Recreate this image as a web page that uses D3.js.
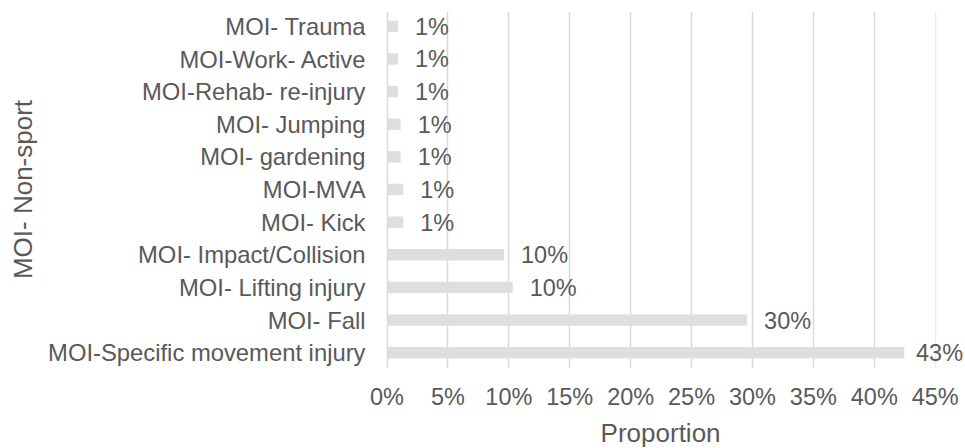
<!DOCTYPE html>
<html>
<head>
<meta charset="utf-8">
<script src="https://cdn.jsdelivr.net/npm/d3@7"></script>
<style>
  body { margin: 0; background: #fff; }
  text { font-family: "Liberation Sans", Arial, sans-serif; fill: #595959; }
</style>
</head>
<body>
<div id="vis1"></div>
<script>
// categories top to bottom
const categories = [
    "MOI- Trauma",
    "MOI-Work- Active",
    "MOI-Rehab- re-injury",
    "MOI- Jumping",
    "MOI- gardening",
    "MOI-MVA",
    "MOI- Kick",
    "MOI- Impact/Collision",
    "MOI- Lifting injury",
    "MOI- Fall",
    "MOI-Specific movement injury"
];
const values = [0.0094, 0.0094, 0.0094, 0.0116, 0.0116, 0.0138, 0.0138, 0.0965, 0.1036, 0.296, 0.425];
const value_labels = ["1%", "1%", "1%", "1%", "1%", "1%", "1%", "10%", "10%", "30%", "43%"];
const x_ticks = [0, 0.05, 0.10, 0.15, 0.20, 0.25, 0.30, 0.35, 0.40, 0.45];

const frame_width = 965;
const frame_height = 448;
const margins = {left: 386.5, right: 30.3, top: 10, bottom: 79};

const x_scale =
d3.scaleLinear()
    .domain([0, 0.45])
    .range([margins.left, frame_width - margins.right]);

const y_scale =
d3.scaleBand()
    .domain(categories)
    .range([margins.top, frame_height - margins.bottom])
    .paddingInner(0.65)
    .paddingOuter(0.325);

const frame1 =
d3.select("#vis1")
    .append("svg")
        .attr("width", frame_width)
        .attr("height", frame_height);

// vertical gridlines
frame1.selectAll(".grid")
    .data(x_ticks)
    .enter()
    .append("line")
        .attr("x1", (d) => Math.round(x_scale(d)) + 0.5)
        .attr("x2", (d) => Math.round(x_scale(d)) + 0.5)
        .attr("y1", margins.top + 2)
        .attr("y2", frame_height - margins.bottom - 1)
        .attr("stroke", (d, i) => i === x_ticks.length - 1 ? "#ececec" : "#d9d9d9")
        .attr("stroke-width", 1.5);

// bars
frame1.selectAll(".bar")
    .data(values)
    .enter()
    .append("rect")
        .attr("x", x_scale(0) + 1)
        .attr("y", (d, i) => y_scale(categories[i]))
        .attr("width", (d) => x_scale(d) - x_scale(0) - 1)
        .attr("height", y_scale.bandwidth())
        .attr("fill", "#dedede");

// value labels (kept inside the frame)
frame1.selectAll(".vlabel")
    .data(values)
    .enter()
    .append("text")
        .attr("x", (d) => Math.min(x_scale(d) + 17, frame_width - 49))
        .attr("y", (d, i) => y_scale(categories[i]) + y_scale.bandwidth() / 2)
        .attr("dy", "0.36em")
        .attr("font-size", "23.5px")
        .text((d, i) => value_labels[i]);

// y axis (category labels)
const y_axis = frame1.append("g")
    .attr("transform", "translate(" + (margins.left - 21) + ",0)")
    .call(d3.axisLeft(y_scale).tickSize(0).tickPadding(0));
y_axis.select(".domain").remove();
y_axis.selectAll("text")
    .attr("font-size", "23.8px")
    .attr("font-family", null)
    .attr("fill", null)
    .attr("dy", "0.36em");

// x axis
const x_axis = frame1.append("g")
    .attr("transform", "translate(0," + (frame_height - margins.bottom) + ")")
    .call(d3.axisBottom(x_scale).tickValues(x_ticks).tickFormat(d3.format(".0%")).tickSize(0).tickPadding(0));
x_axis.select(".domain").remove();
x_axis.selectAll("text")
    .attr("font-size", "23.5px")
    .attr("font-family", null)
    .attr("fill", null)
    .attr("dy", null)
    .attr("y", 36);

// axis titles
frame1.append("text")
    .attr("x", (x_scale(0) + x_scale(0.45)) / 2)
    .attr("y", 441.5)
    .attr("text-anchor", "middle")
    .attr("font-size", "26px")
    .text("Proportion");

frame1.append("text")
    .attr("transform", "translate(32," + ((margins.top + frame_height - margins.bottom) / 2) + ") rotate(-90)")
    .attr("text-anchor", "middle")
    .attr("font-size", "26px")
    .text("MOI- Non-sport");
</script>
</body>
</html>
